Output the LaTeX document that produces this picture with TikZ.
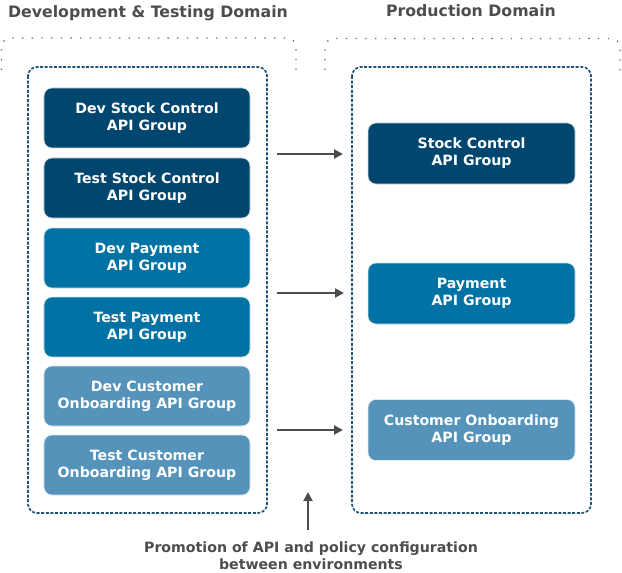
\documentclass[tikz,border=0pt]{standalone}
\usepackage{fontspec}
\setmainfont{DejaVu Sans}
\usetikzlibrary{arrows.meta}
\definecolor{cdark}{HTML}{00466E}
\definecolor{cmid}{HTML}{0072A3}
\definecolor{clight}{HTML}{5593BA}
\definecolor{cframe}{HTML}{1E5478}
\definecolor{cgray}{HTML}{4D4D4D}
\definecolor{cdots}{HTML}{666666}
\begin{document}
\begin{tikzpicture}[x=1bp,y=-1bp,
  apibox/.style={draw=white!80!#1,line width=0.6bp,fill=#1,rounded corners=8bp,minimum width=206bp,minimum height=60bp,
    text=white,font=\bfseries\fontsize{14.2}{17.2}\selectfont,align=center,inner sep=0pt},
  frame/.style={draw=cframe,line width=1.7bp,dash pattern=on 3bp off 1.6bp,rounded corners=9bp},
  outer/.style={draw=cdots,line width=1.3bp,dash pattern=on 1.3bp off 8.4bp,rounded corners=9bp},
  title/.style={text=cgray,font=\bfseries\fontsize{15.8}{17}\selectfont},
  promo/.style={draw=cgray,line width=2bp,-{Triangle[length=9bp,width=9bp]}}]
\useasboundingbox (0,0) rectangle (622,573);
% outer dotted outlines
\draw[outer] (1.5,70) -- (1.5,38) -- (296,38) -- (296,77);
\draw[outer] (325,70) -- (325,38.5) -- (620,38.5) -- (620,77);
% titles
\node[title] (t1) at (148,13) {Development \& Testing Domain};
\node[title] (t2) at (471,11) {Production Domain};
% frames
\draw[frame] (28,67) rectangle (267,513);
\draw[frame] (352,67) rectangle (591,513);
% dev/test boxes
\node[apibox=cdark] (d1) at (147,118) {Dev Stock Control\\API Group};
\node[apibox=cdark] (d2) at (147,188) {Test Stock Control\\API Group};
\node[apibox=cmid] (d3) at (147,258) {Dev Payment\\API Group};
\node[apibox=cmid] (d4) at (147,327) {Test Payment\\API Group};
\node[apibox=clight] (d5) at (147,396) {Dev Customer\\Onboarding API Group};
\node[apibox=clight] (d6) at (147,465) {Test Customer\\Onboarding API Group};
% production boxes
\node[apibox=cdark,minimum width=207bp,minimum height=61bp] (p1) at (471.5,153.5) {Stock Control\\API Group};
\node[apibox=cmid,minimum width=207bp,minimum height=61bp] (p2) at (471.5,293.5) {Payment\\API Group};
\node[apibox=clight,minimum width=207bp,minimum height=61bp] (p3) at (471.5,430) {Customer Onboarding\\API Group};
% arrows
\coordinate (a1s) at (277,154); \coordinate (a1e) at (343,154);
\coordinate (a2s) at (277,293); \coordinate (a2e) at (344,293);
\coordinate (a3s) at (277,430); \coordinate (a3e) at (343,430);
\draw[promo] (a1s) -- (a1e);
\draw[promo] (a2s) -- (a2e);
\draw[promo] (a3s) -- (a3e);
% bottom label
\node[title,font=\bfseries\fontsize{14.2}{17}\selectfont,align=center] (lbl) at (311,556) {Promotion of API and policy configuration\\between environments};
\coordinate (v1) at (308,530); \coordinate (v2) at (308,492);
\draw[promo] (v1) -- (v2);
\end{tikzpicture}
\end{document}
